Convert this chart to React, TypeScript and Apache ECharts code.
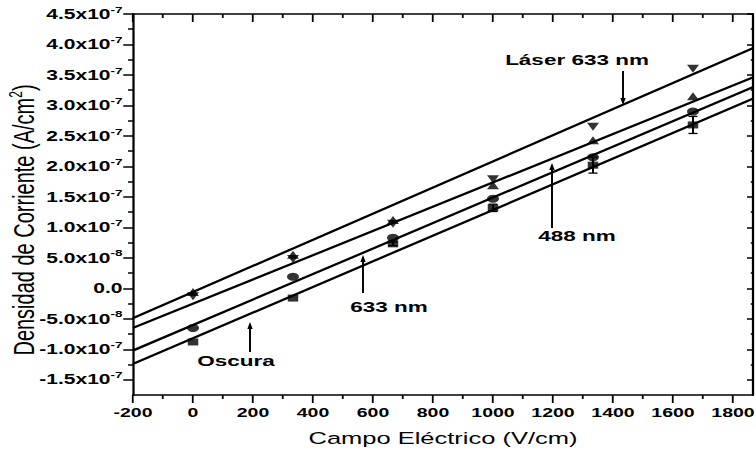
import React, { useEffect, useRef } from "react";
import * as echarts from "echarts";

// ---------- data (current density in A/cm², field in V/cm) ----------
const fieldValues = [0, 333.3, 666.7, 1000, 1333.3, 1666.7];
const laser633 = [-0.13e-7, 0.48e-7, 1.06e-7, 1.79e-7, 2.65e-7, 3.6e-7];
const nm488 = [-0.06e-7, 0.55e-7, 1.12e-7, 1.69e-7, 2.43e-7, 3.15e-7];
const nm633 = [-0.65e-7, 0.19e-7, 0.83e-7, 1.47e-7, 2.15e-7, 2.9e-7];
const oscura = [-0.88e-7, -0.16e-7, 0.73e-7, 1.32e-7, 2.02e-7, 2.68e-7];
const oscuraErr = [0, 0, 0.03e-7, 0.06e-7, 0.13e-7, 0.14e-7];

// linear fits: value at the two ends of the axis
const fitX = [-200, 1866.7];
const laser633Fit = [-0.49e-7, 3.94e-7];
const nm488Fit = [-0.65e-7, 3.46e-7];
const nm633Fit = [-1.02e-7, 3.3e-7];
const oscuraFit = [-1.24e-7, 3.11e-7];

// axes
const xMin = -200;
const xMax = 1866.7;
const xMajor = [-200, 0, 200, 400, 600, 800, 1000, 1200, 1400, 1600, 1800];
const xMinor = [-100, 100, 300, 500, 700, 900, 1100, 1300, 1500, 1700];
const yMin = -1.75e-7;
const yMax = 4.5e-7;
const yMajor = [-1.5e-7, -1.0e-7, -5.0e-8, 0, 5.0e-8, 1.0e-7, 1.5e-7, 2.0e-7, 2.5e-7, 3.0e-7, 3.5e-7, 4.0e-7, 4.5e-7];
const yMantissa = ["-1.5x10", "-1.0x10", "-5.0x10", "0.0", "5.0x10", "1.0x10", "1.5x10", "2.0x10", "2.5x10", "3.0x10", "3.5x10", "4.0x10", "4.5x10"];
const yExponent = ["-7", "-7", "-8", "", "-8", "-7", "-7", "-7", "-7", "-7", "-7", "-7", "-7"];
const yMinor = [-1.25e-7, -0.75e-7, -0.25e-7, 0.25e-7, 0.75e-7, 1.25e-7, 1.75e-7, 2.25e-7, 2.75e-7, 3.25e-7, 3.75e-7, 4.25e-7];

const FONT = '"Liberation Sans", Arial, Helvetica, sans-serif';
const SX = 1.5; // the original figure is stretched horizontally
const W = 756 / SX;
const H = 459;

function arrow(x: number, yTail: number, yTip: number) {
  const dir = yTip < yTail ? 1 : -1; // 1: head points up
  return [
    {
      type: "line",
      shape: { x1: x, y1: yTail, x2: x, y2: yTip + dir * 2 },
      style: { stroke: "#000", lineWidth: 1.3 },
    },
    {
      type: "polygon",
      shape: {
        points: [
          [x - 1.8, yTip + dir * 7],
          [x, yTip],
          [x + 1.8, yTip + dir * 7],
        ],
      },
      style: { fill: "#000" },
    },
  ];
}

function label(text: string, x: number, y: number) {
  return {
    type: "text",
    x,
    y,
    style: {
      text,
      fill: "#000",
      font: `bold 15px ${FONT}`,
      textAlign: "center",
      textVerticalAlign: "middle",
    },
  };
}

export default function App() {
  const ref = useRef<HTMLDivElement>(null);
  useEffect(() => {
    if (!ref.current) return;
    const chart = echarts.init(ref.current, null, { renderer: "svg" });

    const black = { color: "#000" };
    const baseAxis = {
      type: "value",
      splitLine: { show: false },
    };
    const pairs = (ys: number[]) => fieldValues.map((x, i) => [x, ys[i]]);
    const fitPairs = (ys: number[]) => fitX.map((x, i) => [x, ys[i]]);

    const lineSeries = (name: string, ys: number[]) => ({
      name,
      type: "line",
      data: fitPairs(ys),
      showSymbol: false,
      symbol: "none",
      lineStyle: { color: "#000", width: 2.1 },
      z: 2,
    });
    const scatterSeries = (name: string, ys: number[], symbol: string, size: number, rotate = 0) => ({
      name,
      type: "scatter",
      data: pairs(ys),
      symbol,
      symbolSize: size,
      symbolRotate: rotate,
      itemStyle: { color: "#000" },
      z: 4,
    });

    chart.setOption({
      animation: false,
      grid: {
        left: 133 / SX,
        right: 3 / SX,
        top: 14,
        bottom: 64,
        containLabel: false,
        outerBoundsMode: "none",
      },
      xAxis: [
        {
          ...baseAxis,
          position: "bottom",
          min: xMin,
          max: xMax,
          axisLine: { show: true, onZero: false, lineStyle: { ...black, width: 1.5 } },
          axisTick: { show: true, customValues: xMajor, length: 8, lineStyle: { ...black, width: 1.2 } },
          axisLabel: {
            show: true,
            customValues: xMajor,
            margin: 11,
            fontSize: 13,
            fontWeight: "bold",
            color: "#000",
            fontFamily: FONT,
            formatter: (v: number) => String(Math.round(v)),
          },
          name: "Campo Eléctrico (V/cm)",
          nameLocation: "middle",
          nameGap: 35,
          nameTextStyle: { fontSize: 17, color: "#000", fontFamily: FONT },
        },
        {
          ...baseAxis,
          position: "bottom",
          min: xMin,
          max: xMax,
          axisLine: { show: false, onZero: false },
          axisTick: { show: true, customValues: xMinor, length: 4, lineStyle: { ...black, width: 1.2 } },
          axisLabel: { show: false },
        },
        {
          ...baseAxis,
          position: "top",
          min: xMin,
          max: xMax,
          axisLine: { show: true, onZero: false, lineStyle: { ...black, width: 1.5 } },
          axisTick: { show: true, inside: true, customValues: xMajor, length: 8, lineStyle: { ...black, width: 1.2 } },
          axisLabel: { show: false },
        },
        {
          ...baseAxis,
          position: "top",
          min: xMin,
          max: xMax,
          axisLine: { show: false, onZero: false },
          axisTick: { show: true, inside: true, customValues: xMinor, length: 4, lineStyle: { ...black, width: 1.2 } },
          axisLabel: { show: false },
        },
      ],
      yAxis: [
        {
          ...baseAxis,
          position: "left",
          min: yMin,
          max: yMax,
          axisLine: { show: true, onZero: false, lineStyle: { ...black, width: 1.5 } },
          axisTick: { show: true, customValues: yMajor, length: 6.5, lineStyle: { ...black, width: 1.5 } },
          axisLabel: {
            show: true,
            customValues: yMajor,
            margin: 7,
            color: "#000",
            fontFamily: FONT,
            formatter: (v: number) => {
              let idx = 0;
              let best = Infinity;
              yMajor.forEach((t, i) => {
                const d = Math.abs(t - v);
                if (d < best) {
                  best = d;
                  idx = i;
                }
              });
              const e = yExponent[idx];
              return e ? `{m|${yMantissa[idx]}}{e|${e}}` : `{m|${yMantissa[idx]}}`;
            },
            rich: {
              m: { fontSize: 14, fontWeight: "bold", color: "#000", fontFamily: FONT, lineHeight: 18 },
              e: { fontSize: 9, fontWeight: "bold", color: "#000", fontFamily: FONT, lineHeight: 18, verticalAlign: "top" },
            },
          },
        },
        {
          ...baseAxis,
          position: "left",
          min: yMin,
          max: yMax,
          axisLine: { show: false, onZero: false },
          axisTick: { show: true, customValues: yMinor, length: 3.3, lineStyle: { ...black, width: 1.5 } },
          axisLabel: { show: false },
        },
        {
          ...baseAxis,
          position: "right",
          min: yMin,
          max: yMax,
          axisLine: { show: true, onZero: false, lineStyle: { ...black, width: 1.5 } },
          axisTick: { show: true, inside: true, customValues: yMajor, length: 4, lineStyle: { ...black, width: 1.5 } },
          axisLabel: { show: false },
        },
        {
          ...baseAxis,
          position: "right",
          min: yMin,
          max: yMax,
          axisLine: { show: false, onZero: false },
          axisTick: { show: true, inside: true, customValues: yMinor, length: 1.5, lineStyle: { ...black, width: 1.5 } },
          axisLabel: { show: false },
        },
      ],
      series: [
        lineSeries("Láser 633 nm (ajuste)", laser633Fit),
        lineSeries("488 nm (ajuste)", nm488Fit),
        lineSeries("633 nm (ajuste)", nm633Fit),
        lineSeries("Oscura (ajuste)", oscuraFit),
        scatterSeries("Oscura", oscura, "rect", 7),
        scatterSeries("633 nm", nm633, "circle", 8),
        scatterSeries("488 nm", nm488, "triangle", 8),
        scatterSeries("Láser 633 nm", laser633, "triangle", 8, 180),
        {
          name: "Oscura error",
          type: "custom",
          data: fieldValues.map((x, i) => [x, oscura[i], oscuraErr[i]]),
          z: 5,
          renderItem: (_params: any, api: any) => {
            const x = api.value(0);
            const y = api.value(1);
            const e = api.value(2);
            if (!e) return null;
            const top = api.coord([x, y + e]);
            const bot = api.coord([x, y - e]);
            const cw = 3;
            const st = { stroke: "#000", lineWidth: 1.3 };
            return {
              type: "group",
              children: [
                { type: "line", shape: { x1: top[0], y1: top[1], x2: bot[0], y2: bot[1] }, style: st },
                { type: "line", shape: { x1: top[0] - cw, y1: top[1], x2: top[0] + cw, y2: top[1] }, style: st },
                { type: "line", shape: { x1: bot[0] - cw, y1: bot[1], x2: bot[0] + cw, y2: bot[1] }, style: st },
              ],
            };
          },
        },
      ],
      graphic: [
        {
          type: "text",
          x: 23 / SX,
          y: 220,
          rotation: Math.PI / 2,
          style: {
            text: "Densidad de Corriente (A/cm{s|2})",
            fill: "#000",
            fontSize: 20,
            fontFamily: FONT,
            textAlign: "center",
            textVerticalAlign: "middle",
            rich: {
              s: { fontSize: 12, fill: "#000", fontFamily: FONT, verticalAlign: "top", lineHeight: 22 },
            },
          },
        },
        label("Láser 633 nm", 577 / SX, 60),
        ...arrow(623 / SX, 71, 105),
        label("488 nm", 577 / SX, 236),
        ...arrow(552 / SX, 228, 163),
        label("633 nm", 389 / SX, 307),
        ...arrow(363 / SX, 293, 255),
        label("Oscura", 236 / SX, 361),
        ...arrow(250 / SX, 352, 322),
      ],
    });
    return () => chart.dispose();
  }, []);

  return (
    <div
      style={{
        position: "fixed",
        left: 0,
        top: 0,
        width: 756,
        height: H,
        overflow: "hidden",
        background: "#fff",
      }}
    >
      <div
        ref={ref}
        style={{
          width: W,
          height: H,
          transform: `scaleX(${SX})`,
          transformOrigin: "0 0",
        }}
      />
    </div>
  );
}
